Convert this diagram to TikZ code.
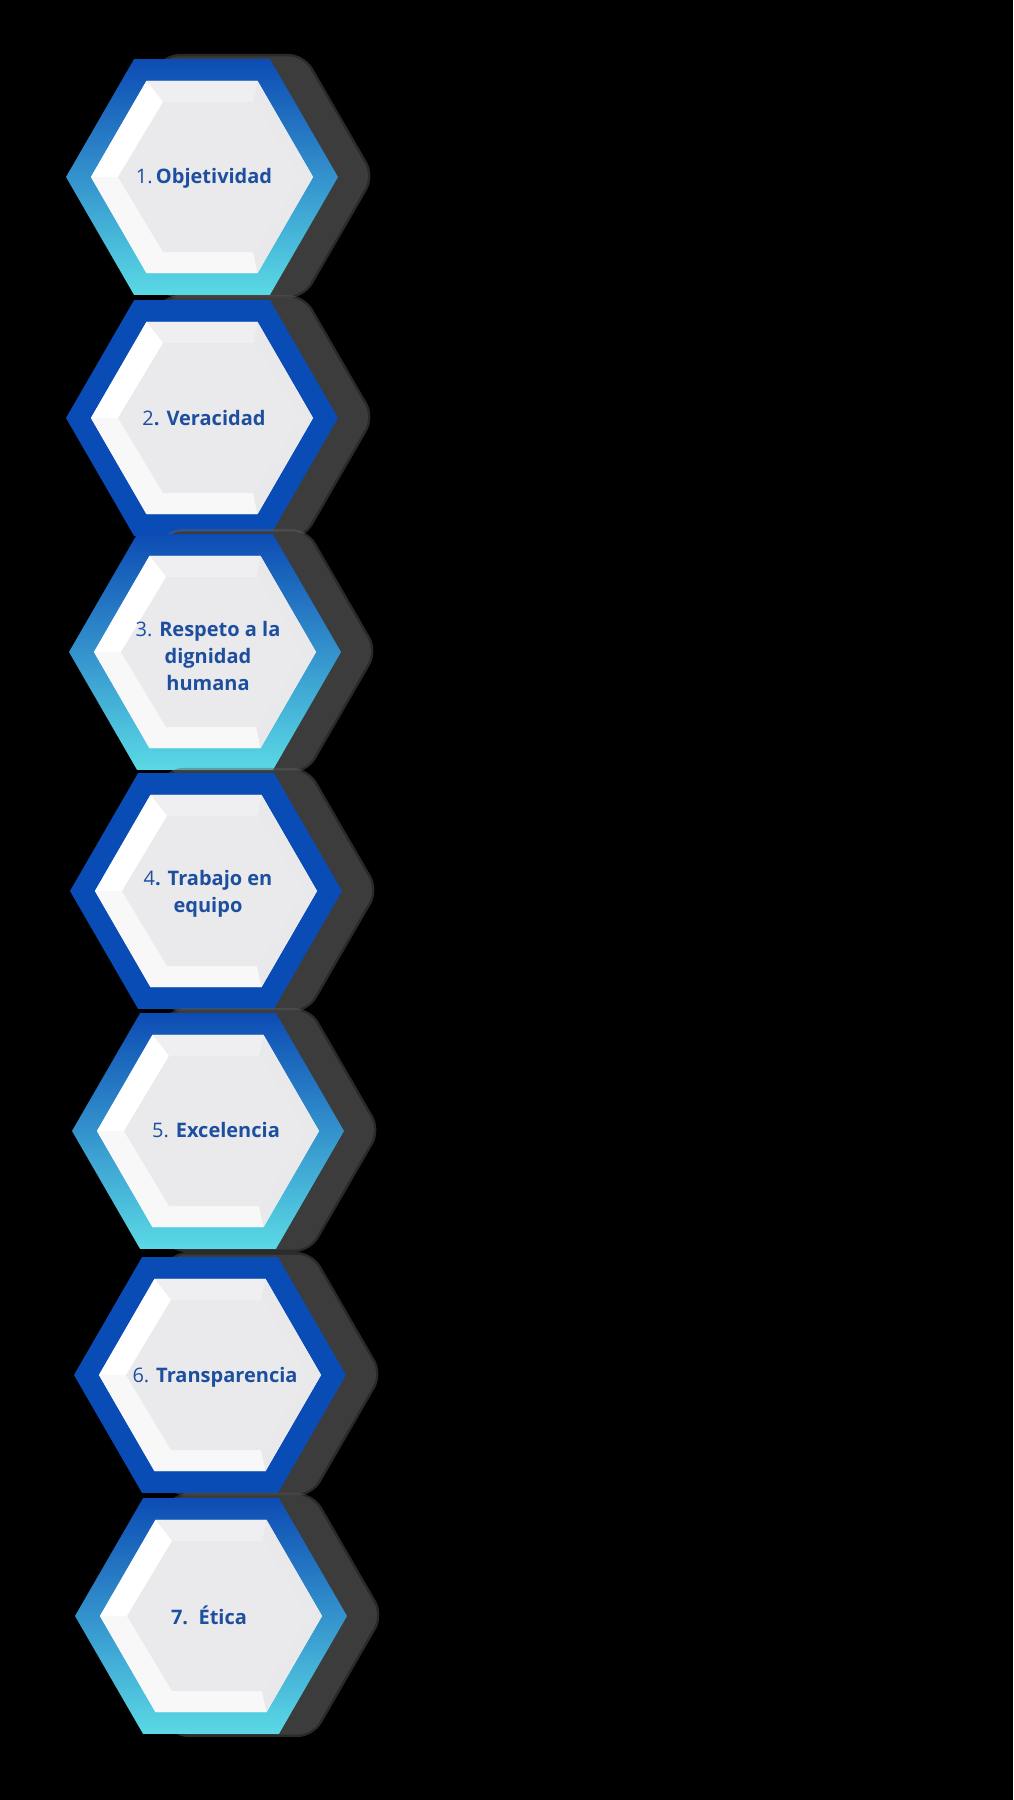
\documentclass[tikz,border=0pt]{standalone}
\usepackage{fontspec}
\setmainfont{Open Sans}
\definecolor{hexTop}{HTML}{0D4CB4}
\definecolor{hexMid}{HTML}{2A86CC}
\definecolor{hexBot}{HTML}{5AD9E5}
\definecolor{hexSolid}{HTML}{0A4CB6}
\definecolor{shadowc}{HTML}{3C3C3C}
\definecolor{shadowedge}{HTML}{5E5E5E}
\definecolor{textc}{HTML}{1D4F9E}
\definecolor{faceC}{HTML}{EAEAED}
\definecolor{topBand}{HTML}{EFEFF1}
\definecolor{rightBand}{HTML}{E9E9EB}
\definecolor{lowBand}{HTML}{F8F8F9}
\newcommand\hexagonpath[3]{(#1+#3,#2) -- (#1+0.5*#3,#2-0.866*#3) -- (#1-0.5*#3,#2-0.866*#3) -- (#1-#3,#2) -- (#1-0.5*#3,#2+0.866*#3) -- (#1+0.5*#3,#2+0.866*#3) -- cycle}
\newcommand\valuehex[3]{%
  \fill[shadowedge, opacity=0.45, rounded corners=16pt] \hexagonpath{#1+32}{#2-1}{141};
  \fill[shadowc, rounded corners=14pt] \hexagonpath{#1+32}{#2-1}{138};
  \path[#3] \hexagonpath{#1}{#2}{136};
  \begin{scope}[shift={(#1,#2)}]
    \coordinate (i0) at (111,0);      \coordinate (f0) at (96,0);
    \coordinate (i60) at (55.5,96.1); \coordinate (f60) at (51,75);
    \coordinate (i120) at (-55.5,96.1); \coordinate (f120) at (-39,75);
    \coordinate (i180) at (-111,0);   \coordinate (f180) at (-84,0);
    \coordinate (i240) at (-55.5,-96.1); \coordinate (f240) at (-39,-75);
    \coordinate (i300) at (55.5,-96.1); \coordinate (f300) at (51,-75);
    \fill[white] (i0) -- (i60) -- (i120) -- (i180) -- (i240) -- (i300) -- cycle;
    \fill[topBand] (i240) -- (i300) -- (f300) -- (f240) -- cycle;
    \fill[white] (i180) -- (i240) -- (f240) -- (f180) -- cycle;
    \fill[lowBand] (i120) -- (i180) -- (f180) -- (f120) -- cycle;
    \fill[lowBand] (i60) -- (i120) -- (f120) -- (f60) -- cycle;
    \fill[rightBand] (i0) -- (i60) -- (f60) -- (f0) -- cycle;
    \fill[rightBand] (i300) -- (i0) -- (f0) -- (f300) -- cycle;
    \fill[faceC] (f0) -- (f60) -- (f120) -- (f180) -- (f240) -- (f300) -- cycle;
  \end{scope}
}
\tikzset{
  gradring/.style={top color=hexTop, middle color=hexMid, bottom color=hexBot},
  solidring/.style={fill=hexSolid},
  lbl/.style={text=textc, align=center, inner sep=0pt, font=\fontsize{20}{27}\selectfont}
}
\begin{document}
\begin{tikzpicture}[x=1pt,y=-1pt]
\fill[black] (0,0) rectangle (1013,1800);
\useasboundingbox (0,0) rectangle (1013,1800);

\valuehex{202}{177}{gradring}
\node[lbl] (t1) at (204,178) {1.\,\textbf{Objetividad}};

\valuehex{202}{418}{solidring}
\node[lbl] (t2) at (204,418) {2\textbf{. Veracidad}};

\valuehex{205}{652}{gradring}
\node[lbl] (t3) at (208,656) {3. \textbf{Respeto a la}\\\textbf{dignidad}\\\textbf{humana}};

\valuehex{206}{891}{solidring}
\node[lbl] (t4) at (208,894) {4\textbf{. Trabajo en}\\\textbf{equipo}};

\valuehex{208}{1131}{gradring}
\node[lbl] (t5) at (216,1130) {5. \textbf{Excelencia}};

\valuehex{210}{1375}{solidring}
\node[lbl] (t6) at (215,1377) {6. \textbf{Transparencia}};

\valuehex{211}{1616}{gradring}
\node[lbl] (t7) at (209,1615) {\textbf{7.\ \ Ética}};
\end{tikzpicture}
\end{document}
